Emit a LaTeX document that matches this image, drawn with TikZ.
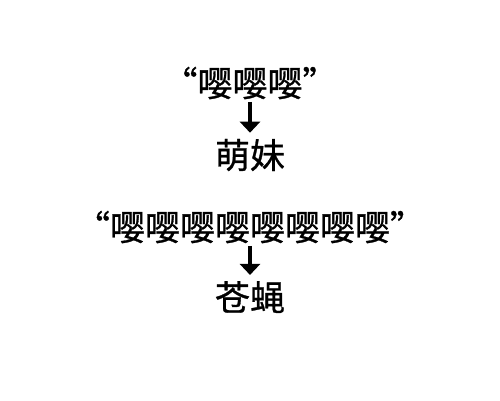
\documentclass[tikz,border=0pt]{standalone}
\usepackage{fontspec}
\setmainfont[FakeBold=0.8]{Noto Sans CJK SC}
\usetikzlibrary{arrows.meta}
\tikzset{
  lbl/.style={inner sep=0pt, font=\fontsize{35}{38}\selectfont},
  arr/.style={line width=4pt, -{Triangle[width=20pt,length=11pt]}, shorten <=2.5pt, shorten >=6pt}
}
\begin{document}
\begin{tikzpicture}[x=1pt,y=1pt]
\useasboundingbox (0,0) rectangle (500,-400);
\node[lbl] (a) at (250,-83) {“嘤嘤嘤”};
\node[lbl] (b) at (250,-155) {萌妹};
\node[lbl] (c) at (250,-227) {“嘤嘤嘤嘤嘤嘤嘤嘤”};
\node[lbl] (d) at (250,-297) {苍蝇};
\draw[arr] (a) -- (b);
\draw[arr] (c) -- (d);
\end{tikzpicture}
\end{document}
